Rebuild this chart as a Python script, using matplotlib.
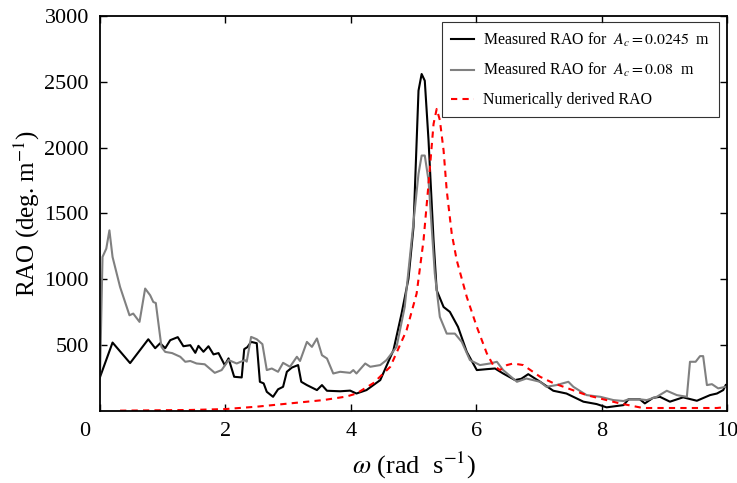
import numpy as np
import matplotlib.pyplot as plt
import matplotlib.transforms as mtransforms

plt.rcParams['font.family'] = ['Liberation Serif', 'DejaVu Serif']
plt.rcParams['mathtext.fontset'] = 'stix'

# ----------------------------
# Measured RAO, A_c = 0.0245 m
# ----------------------------
w_small = [0.0, 0.2, 0.48, 0.77, 0.88, 0.96, 1.04, 1.12, 1.24, 1.33, 1.44, 1.52,
           1.57, 1.65, 1.73, 1.81, 1.89, 1.99, 2.05, 2.14, 2.26, 2.30, 2.35, 2.41,
           2.50, 2.55, 2.61, 2.66, 2.76, 2.84, 2.92, 2.98, 3.06, 3.16, 3.21, 3.30,
           3.46, 3.54, 3.62, 3.83, 3.99, 4.09, 4.25, 4.47, 4.68, 4.81, 4.92, 5.00,
           5.08, 5.13, 5.18, 5.24, 5.32, 5.37, 5.48, 5.58, 5.71, 5.85, 6.01, 6.17,
           6.30, 6.43, 6.62, 6.72, 6.83, 7.02, 7.23, 7.44, 7.71, 7.92, 8.08, 8.35,
           8.43, 8.61, 8.69, 8.82, 8.93, 9.09, 9.30, 9.52, 9.73, 9.84, 9.94, 9.98]
rao_small = [258, 520, 364, 545, 477, 515, 477, 538, 561, 492, 500, 442,
             495, 450, 492, 430, 440, 348, 400, 260, 255, 470, 485, 525,
             515, 222, 210, 146, 108, 165, 184, 298, 330, 349, 222, 197,
             159, 197, 154, 150, 155, 133, 159, 235, 462, 740, 1005, 1397,
             2433, 2559, 2508, 2054, 1296, 917, 790, 753, 639, 449, 311, 318,
             323, 285, 235, 245, 280, 222, 154, 133, 71, 53, 28, 45,
             89, 89, 58, 100, 108, 71, 104, 78, 121, 133, 159, 197]

# ----------------------------
# Measured RAO, A_c = 0.08 m
# ----------------------------
w_large = [0.0, 0.04, 0.10, 0.15, 0.2, 0.32, 0.47, 0.53, 0.63, 0.72, 0.80, 0.85,
           0.89, 0.98, 1.04, 1.15, 1.28, 1.36, 1.44, 1.54, 1.67, 1.83, 1.94, 2.05,
           2.18, 2.31, 2.34, 2.41, 2.50, 2.59, 2.66, 2.74, 2.84, 2.92, 3.03, 3.14,
           3.19, 3.30, 3.38, 3.46, 3.54, 3.62, 3.72, 3.83, 3.99, 4.04, 4.09, 4.23,
           4.31, 4.47, 4.57, 4.73, 4.86, 4.97, 5.08, 5.13, 5.18, 5.24, 5.34, 5.42,
           5.53, 5.66, 5.77, 5.90, 6.06, 6.22, 6.33, 6.43, 6.65, 6.80, 7.02, 7.12,
           7.28, 7.47, 7.55, 7.76, 7.98, 8.19, 8.35, 8.43, 8.61, 8.72, 8.88, 9.04,
           9.20, 9.36, 9.41, 9.50, 9.57, 9.62, 9.68, 9.76, 9.86, 9.98]
rao_large = [258, 1170, 1233, 1372, 1170, 942, 727, 740, 677, 930, 879, 828,
             820, 487, 449, 440, 412, 374, 380, 361, 355, 290, 311, 387,
             361, 387, 375, 563, 545, 508, 311, 323, 298, 366, 336, 412,
             380, 525, 487, 551, 424, 399, 285, 298, 290, 311, 285, 361,
             336, 349, 387, 487, 790, 1296, 1801, 1940, 1940, 1750, 1043, 715,
             588, 588, 525, 387, 349, 361, 374, 311, 222, 247, 222, 184,
             197, 222, 184, 121, 108, 83, 76, 89, 89, 83, 108, 154,
             121, 108, 374, 374, 417, 417, 197, 204, 172, 184]

# ----------------------------
# Numerically derived RAO
# ----------------------------
w_num = [0.32, 1.44, 2.0, 2.5, 3.03, 3.56, 3.93, 4.09, 4.36, 4.63, 4.89, 5.05,
         5.16, 5.24, 5.32, 5.37, 5.42, 5.48, 5.53, 5.61, 5.69, 5.85, 6.01, 6.17,
         6.27, 6.38, 6.49, 6.59, 6.75, 7.02, 7.23, 7.76, 8.29, 8.66, 9.84, 9.98]
rao_num = [3, 8, 15, 33, 58, 83, 110, 133, 212, 336, 614, 892,
           1296, 1725, 2180, 2294, 2210, 1978, 1675, 1347, 1144, 866, 639, 437,
           349, 311, 349, 361, 349, 260, 212, 121, 58, 23, 23, 30]

fig = plt.figure(figsize=(7.37, 4.83), dpi=100)
ax = fig.add_axes([0.1357, 0.149, 0.8507, 0.818])

ax.plot(w_small, rao_small, color='black', lw=1.5,
        label=r'Measured RAO for  $A_c = 0.0245$  m')
ax.plot(w_large, rao_large, color='#808080', lw=1.5,
        label=r'Measured RAO for  $A_c = 0.08$  m')
ax.plot(w_num, rao_num, color='red', lw=1.5, ls='--', dashes=(3, 2.5),
        label='Numerically derived RAO')

ax.set_xlim(0, 10)
ax.set_ylim(0, 3000)
ax.set_xticks([0, 2, 4, 6, 8, 10])
ax.set_yticks([500, 1000, 1500, 2000, 2500, 3000])
ax.tick_params(direction='in', top=True, right=True, length=5, width=1,
               labelsize=16, pad=8)
for s in ax.spines.values():
    s.set_linewidth(1.3)

# the "0" label sits a little left of the axis in the original
lbl0 = ax.get_xticklabels()[0]
lbl0.set_transform(lbl0.get_transform() +
                   mtransforms.ScaledTranslation(-0.15, 0, fig.dpi_scale_trans))

ax.set_xlabel(r'$\omega$ (rad  s$^{-1}$)', fontsize=19, labelpad=6)
ax.set_ylabel(r'RAO (deg. m$^{-1}$)', fontsize=18, labelpad=2)

leg = ax.legend(loc='upper right', fontsize=11.4, frameon=True, fancybox=False,
                edgecolor='black', borderpad=0.55, labelspacing=0.8,
                handlelength=1.45, handletextpad=0.6, borderaxespad=0,
                bbox_to_anchor=(0.987, 0.985))
leg.get_frame().set_linewidth(0.8)

fig.savefig('out.png', dpi=100)
